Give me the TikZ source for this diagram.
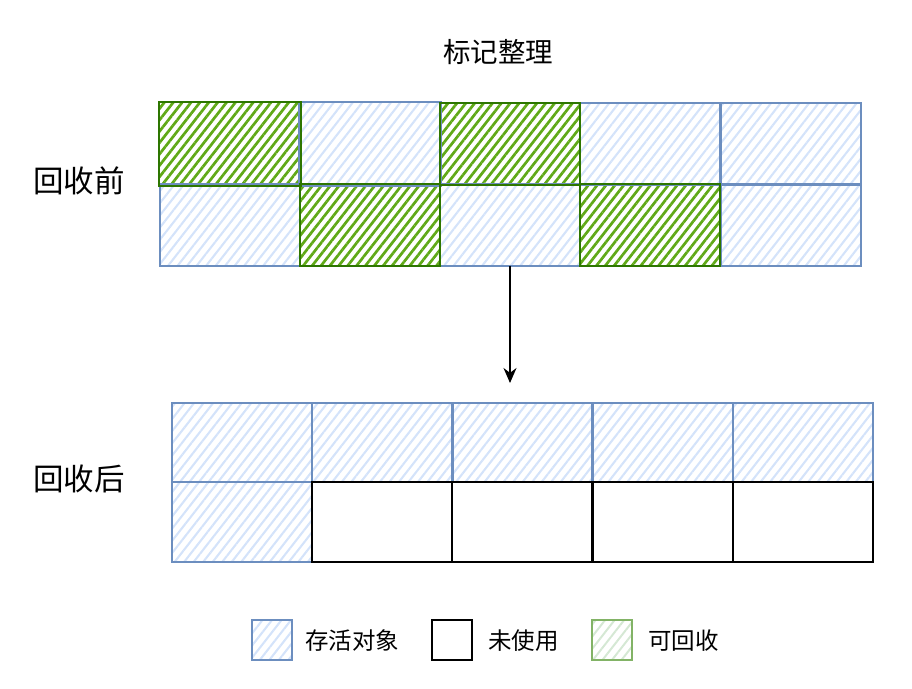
\documentclass[tikz,border=0pt]{standalone}
\usepackage{fontspec}
\setmainfont{Noto Sans CJK SC}
\usetikzlibrary{patterns.meta,arrows.meta}
\definecolor{bluestroke}{HTML}{6C8EBF}
\definecolor{bluehatch}{HTML}{D4E3FA}
\definecolor{greenstroke}{HTML}{2D7600}
\definecolor{greenhatch}{HTML}{60A917}
\definecolor{lgstroke}{HTML}{82B366}
\definecolor{lghatch}{HTML}{D5E8D4}
\tikzset{
  livecell/.style={rectangle,
    pattern={Lines[angle=52,distance=7.5pt,line width=2.1pt]}, pattern color=bluehatch},
  garbcell/.style={rectangle,
    pattern={Lines[angle=52,distance=7pt,line width=2.7pt]}, pattern color=greenhatch},
  lgcell/.style={rectangle, draw=lgstroke, line width=2pt,
    pattern={Lines[angle=52,distance=7.5pt,line width=2pt]}, pattern color=lghatch},
  freecell/.style={rectangle, fill=white},
  liveline/.style={draw=bluestroke, line width=2pt},
  garbline/.style={draw=greenstroke, line width=2pt},
  freeline/.style={draw=black, line width=1.8pt},
  topcell/.style={minimum width=140pt, minimum height=81pt, inner sep=0pt},
  botcell/.style={minimum width=140.2pt, minimum height=79.5pt, inner sep=0pt},
  legbox/.style={minimum width=40pt, minimum height=40pt, inner sep=0pt},
  lbl/.style={font=\fontsize{30.5}{34}\selectfont, inner sep=0pt},
  legtxt/.style={font=\fontsize{23.5}{26}\selectfont, inner sep=0pt, anchor=west},
  flow/.style={-{Stealth[length=15pt,width=13pt]}, line width=1.5pt, draw=black}
}
\begin{document}
\begin{tikzpicture}[x=1pt,y=-1pt]
\useasboundingbox (0,0) rectangle (912,688);
\node[font=\fontsize{27.5}{30}\selectfont, inner sep=0pt] (title) at (498,52) {标记整理};
\node[lbl] (before) at (79,181) {回收前};
\node[lbl] (after) at (79,479) {回收后};
% top grid
\node[livecell,topcell] (t12) at (370,144) {};
\node[livecell,topcell] (t14) at (650,144) {};
\node[livecell,topcell] (t15) at (791,144) {};
\node[livecell,topcell] (t21) at (230,225) {};
\node[livecell,topcell] (t23) at (510,225) {};
\node[livecell,topcell] (t25) at (791,225) {};
\node[garbcell,topcell] (t11) at (230,144) {};
\node[garbcell,topcell] (t13) at (510,144) {};
\node[garbcell,topcell] (t22) at (370,225) {};
\node[garbcell,topcell] (t24) at (650,225) {};
% bottom grid
\node[livecell,botcell] (b11) at (242,442.5) {};
\node[livecell,botcell] (b12) at (382.2,442.5) {};
\node[livecell,botcell] (b13) at (522.4,442.5) {};
\node[livecell,botcell] (b14) at (662.6,442.5) {};
\node[livecell,botcell] (b15) at (802.8,442.5) {};
\node[livecell,botcell] (b21) at (242,522) {};
\node[freecell,botcell] (b22) at (382.2,522) {};
\node[freecell,botcell] (b23) at (522.4,522) {};
\node[freecell,botcell] (b24) at (662.6,522) {};
\node[freecell,botcell] (b25) at (802.8,522) {};
% borders
\foreach \n in {t12,t14,t15,t21,t23,t25,b11,b12,b13,b14,b15,b21}
  \draw[liveline] (\n.north west) rectangle (\n.south east);
\foreach \n in {b22,b23,b24,b25}
  \draw[freeline] (\n.north west) rectangle (\n.south east);
\foreach \n in {t11,t13,t22,t24}
  \draw[garbline] (\n.north west) rectangle (\n.south east);
% arrow
\coordinate (arrowend) at (510,383);
\draw[flow] (t23.south) -- (arrowend);
% legend
\node[livecell,legbox,liveline] (lg1) at (272,640) {};
\node[legtxt] (lt1) at (305,641) {存活对象};
\node[freecell,legbox,freeline] (lg2) at (452,640) {};
\node[legtxt] (lt2) at (488,641) {未使用};
\node[lgcell,legbox] (lg3) at (612,640) {};
\node[legtxt] (lt3) at (648,641) {可回收};
\end{tikzpicture}
\end{document}
